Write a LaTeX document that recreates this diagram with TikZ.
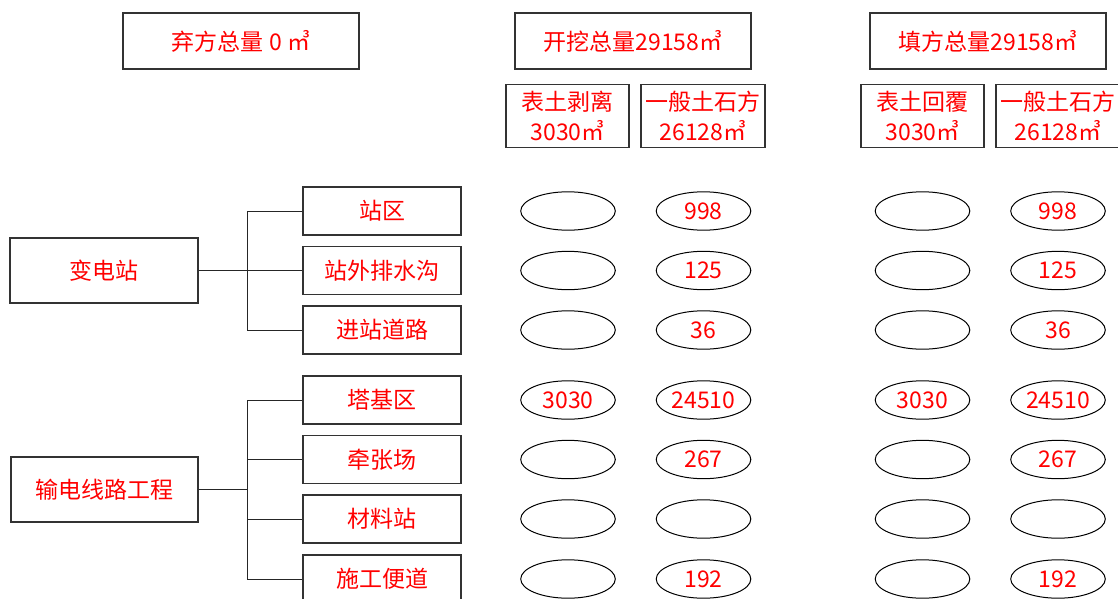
\documentclass[tikz,border=0pt]{standalone}
\usepackage{fontspec}
\newfontfamily\cjk{Noto Sans CJK SC}
\usetikzlibrary{shapes.geometric}
\definecolor{txtred}{RGB}{255,0,0}
\tikzset{
  txt/.style={text=txtred, font=\cjk\fontsize{11.5}{15}\selectfont, align=center, inner sep=0pt},
  box/.style={txt, draw=black!80, line width=0.6pt},
  oval/.style={txt, draw=black, line width=0.5pt, ellipse, minimum width=47.3pt, minimum height=19.2pt},
  link/.style={draw=black!85, line width=0.5pt}
}

\begin{document}
\begin{tikzpicture}[x=0.5pt, y=-0.5pt]
  \useasboundingbox (0,0) rectangle (1118,599);

  % totals
  \node[box, minimum width=118pt, minimum height=28pt] (waste) at (241,41) {弃方总量 0 ㎥};
  \node[box, minimum width=118pt, minimum height=28pt] (dig) at (633,41) {开挖总量29158㎥};
  \node[box, minimum width=118pt, minimum height=28pt] (fill) at (988,41) {填方总量29158㎥};

  % sub totals
  \node[box, minimum width=61.5pt, minimum height=31.5pt] (strip) at (567.5,116) {表土剥离\\3030㎥};
  \node[box, minimum width=62pt, minimum height=31.5pt] (digsoil) at (703,116) {一般土石方\\26128㎥};
  \node[box, minimum width=61.5pt, minimum height=31.5pt] (cover) at (922.5,116) {表土回覆\\3030㎥};
  \node[box, minimum width=62pt, minimum height=31.5pt] (fillsoil) at (1058,116) {一般土石方\\26128㎥};

  % project parts
  \node[box, minimum width=94pt, minimum height=32.5pt] (sub) at (104,270.5) {变电站};
  \node[box, minimum width=93.5pt, minimum height=32.5pt] (line) at (104.5,489.5) {输电线路工程};

  \foreach \name/\yy/\lbl in {zq/211/站区, psg/270.5/站外排水沟, jzdl/330/进站道路,
                              tjq/400/塔基区, qzc/459.5/牵张场, clz/519/材料站, sgbd/579/施工便道}
    \node[box, minimum width=79pt, minimum height=24pt] (\name) at (382,\yy) {\lbl};

  % tree lines
  \coordinate (subj) at (247,270.5);
  \coordinate (linej) at (247,489.5);
  \draw[link] (sub.east) -- (subj);
  \foreach \name in {zq, psg, jzdl}
    \draw[link] (\name.west) -| (subj);
  \draw[link] (line.east) -- (linej);
  \foreach \name in {tjq, qzc, clz, sgbd}
    \draw[link] (\name.west) -| (linej);

  % quantities
  \foreach \r/\yy/\la/\lb in {1/211//998, 2/270.5//125, 3/330//36, 4/400/3030/24510,
                              5/459.5//267, 6/519//, 7/579//192} {
    \node[oval] (dig-a-\r) at (568,\yy) {\la};
    \node[oval] (dig-b-\r) at (703.5,\yy) {\lb};
    \node[oval] (fill-a-\r) at (922.5,\yy) {\la};
    \node[oval] (fill-b-\r) at (1058,\yy) {\lb};
  }
\end{tikzpicture}
\end{document}
